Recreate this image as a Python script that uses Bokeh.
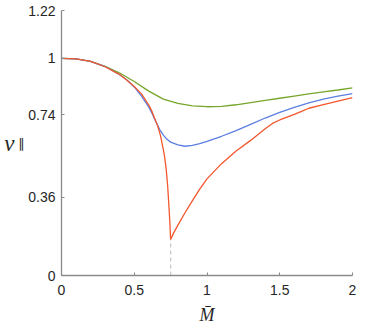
from bokeh.plotting import figure
from bokeh.models import Range1d, FixedTicker, LinearAxis
from bokeh.embed import file_html
from bokeh.resources import INLINE

# ---- data ----
green_x = [0, 0.1, 0.2, 0.3, 0.4, 0.5, 0.6, 0.7, 0.8, 0.9, 1.0, 1.1, 1.2, 1.3, 1.4, 1.5, 1.6, 1.7, 1.8, 1.9, 2.0]
green_y = [1.0, 0.997, 0.986, 0.963, 0.932, 0.893, 0.849, 0.812, 0.792, 0.781, 0.777, 0.779, 0.786, 0.796, 0.806, 0.816, 0.826, 0.836, 0.845, 0.854, 0.864]

blue_x = [0, 0.1, 0.2, 0.3, 0.4, 0.45, 0.5, 0.55, 0.6, 0.625, 0.65, 0.675, 0.7, 0.725, 0.75, 0.8, 0.85, 0.9, 0.95, 1.0, 1.1, 1.2, 1.3, 1.4, 1.5, 1.6, 1.7, 1.8, 1.9, 2.0]
blue_y = [1.0, 0.997, 0.986, 0.962, 0.924, 0.9, 0.868, 0.826, 0.775, 0.742, 0.706, 0.672, 0.646, 0.627, 0.614, 0.601, 0.595, 0.599, 0.607, 0.618, 0.641, 0.667, 0.696, 0.725, 0.751, 0.774, 0.795, 0.812, 0.826, 0.837]

red_x = [0, 0.1, 0.2, 0.3, 0.4, 0.45, 0.5, 0.55, 0.6, 0.62, 0.64, 0.66, 0.68, 0.7, 0.71, 0.72, 0.73, 0.74, 0.745, 0.75,
         0.77, 0.8, 0.85, 0.9, 0.95, 1.0, 1.1, 1.2, 1.3, 1.4, 1.45, 1.5, 1.6, 1.65, 1.7, 1.8, 1.9, 2.0]
red_y = [1.0, 0.997, 0.986, 0.961, 0.925, 0.899, 0.87, 0.836, 0.785, 0.758, 0.724, 0.69, 0.645, 0.58, 0.54, 0.485, 0.41, 0.30, 0.24, 0.166,
         0.195, 0.232, 0.29, 0.345, 0.398, 0.445, 0.515, 0.573, 0.622, 0.676, 0.70, 0.716, 0.742, 0.756, 0.77, 0.787, 0.803, 0.819]

x_ticks = [0, 0.5, 1, 1.5, 2]
x_tick_labels = ["0", "0.5", "1", "1.5", "2"]
y_ticks = [0, 0.36, 0.74, 1, 1.22]
y_tick_labels = ["0", "0.36", "0.74", "1", "1.22"]

x_label = "M\u0304"
y_label_main = "v"
y_label_sub = "\u2225"

# critical point: minimum of the red curve
i_min = red_y.index(min(red_y))
crit_x = red_x[i_min]
crit_y = red_y[i_min]

p = figure(width=375, height=332, output_backend="svg", toolbar_location=None,
           x_range=Range1d(0, 2), y_range=Range1d(0, 1.22),
           min_border_left=61, min_border_right=23, min_border_top=10, min_border_bottom=57)

p.xgrid.visible = False
p.ygrid.visible = False
p.outline_line_color = None
p.background_fill_color = "white"
p.border_fill_color = "white"

p.xaxis.ticker = FixedTicker(ticks=x_ticks)
p.yaxis.ticker = FixedTicker(ticks=y_ticks)
p.xaxis.major_label_overrides = dict(zip(x_ticks, x_tick_labels))
p.yaxis.major_label_overrides = dict(zip(y_ticks, y_tick_labels))

for ax in (p.xaxis, p.yaxis):
    ax.axis_line_color = "#8a8a8a"
    ax.axis_line_width = 1.3
    ax.major_tick_line_color = "#8a8a8a"
    ax.major_tick_in = 3
    ax.major_tick_out = 0
    ax.minor_tick_line_color = None
    ax.major_label_text_font = "Liberation Sans"
    ax.major_label_text_font_size = "14px"
    ax.major_label_text_color = "#262626"
p.yaxis.major_label_standoff = 6
p.xaxis.major_label_standoff = 9

p.xaxis.axis_label = x_label
p.xaxis.axis_label_text_font = "Liberation Serif"
p.xaxis.axis_label_text_font_style = "italic"
p.xaxis.axis_label_text_font_size = "18px"
p.xaxis.axis_label_text_color = "#262626"
p.xaxis.axis_label_standoff = 7


def label_axis(text, font, style, size, standoff, baseline="middle"):
    ax = LinearAxis(ticker=FixedTicker(ticks=[]), axis_line_color=None,
                    major_tick_in=0, major_tick_out=0, minor_tick_line_color=None,
                    major_label_standoff=0, major_label_text_font_size="0px",
                    axis_label=text, axis_label_text_font=font,
                    axis_label_text_font_style=style, axis_label_text_font_size=size,
                    axis_label_text_color="#262626", axis_label_standoff=standoff,
                    axis_label_orientation="horizontal",
                    axis_label_text_baseline=baseline)
    p.add_layout(ax, "left")


label_axis(y_label_sub, "DejaVu Sans", "normal", "13px", 1)
label_axis(y_label_main, "Liberation Serif", "italic", "23px", 0)

p.segment(x0=[crit_x], y0=[0], x1=[crit_x], y1=[crit_y], line_color="#c8c8c8",
          line_width=1.3, line_dash="4 3")

p.line(green_x, green_y, line_color="#77a62a", line_width=1.3)
p.line(blue_x, blue_y, line_color="#5b7fe0", line_width=1.3)
p.line(red_x, red_y, line_color="#f2572d", line_width=1.3)

open("out.html", "w").write(file_html(p, INLINE))
